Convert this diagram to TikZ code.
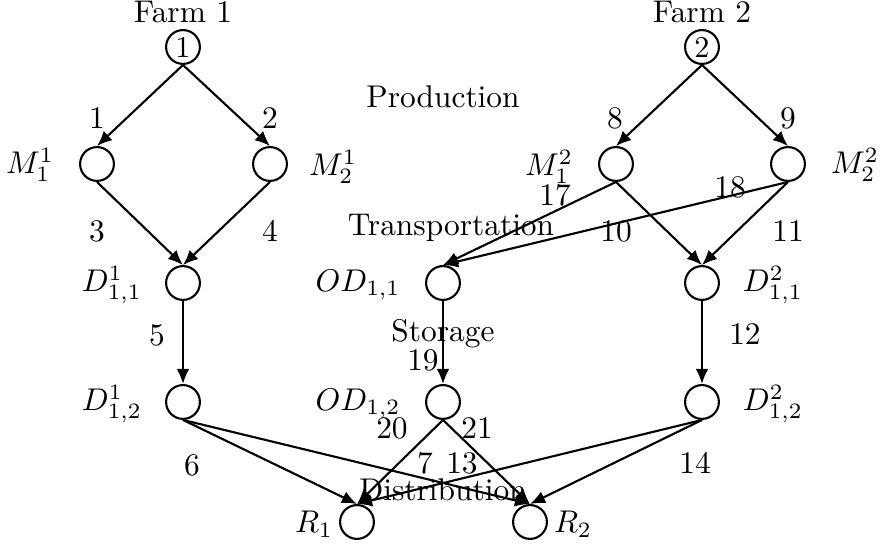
\documentclass[tikz,border=0pt]{standalone}
\usetikzlibrary{arrows.meta}
\begin{document}
\begin{tikzpicture}[x=0.33113pt,y=-0.33113pt,
  vert/.style={circle,draw,line width=0.7pt,minimum size=11.2pt,inner sep=0.5pt},
  flow/.style={line width=0.7pt,-{Latex[length=5pt,width=4.2pt]}},
  lbl/.style={inner sep=0pt,scale=1.04}]
\useasboundingbox (0,0) rectangle (880,546);
% vertices
\node[vert] (F1) at (183,47) {1};
\node[vert] (F2) at (702,47) {2};
\node[vert] (M11) at (97,164) {};
\node[vert] (M12) at (270,164) {};
\node[vert] (M21) at (616,164) {};
\node[vert] (M22) at (788,164) {};
\node[vert] (D111) at (183,283) {};
\node[vert] (OD11) at (443,283) {};
\node[vert] (D211) at (702,283) {};
\node[vert] (D112) at (183,402) {};
\node[vert] (OD12) at (443,402) {};
\node[vert] (D212) at (702,402) {};
\node[vert] (R1) at (357,522) {};
\node[vert] (R2) at (530,522) {};
% vertex names
\node[lbl] (tF1) at (183,12) {Farm 1};
\node[lbl] (tF2) at (702,12) {Farm 2};
\node[lbl] (tM11) at (30,165) {$M_1^1$};
\node[lbl] (tM12) at (333,167) {$M_2^1$};
\node[lbl] (tM21) at (549,167) {$M_1^2$};
\node[lbl] (tM22) at (855,165) {$M_2^2$};
\node[lbl] (tD111) at (112,285) {$D_{1,1}^1$};
\node[lbl] (tOD11) at (358,285) {$OD_{1,1}$};
\node[lbl] (tD211) at (773,285) {$D_{1,1}^2$};
\node[lbl] (tD112) at (112,404) {$D_{1,2}^1$};
\node[lbl] (tOD12) at (358,404) {$OD_{1,2}$};
\node[lbl] (tD212) at (773,404) {$D_{1,2}^2$};
\node[lbl] (tR1) at (314,524) {$R_1$};
\node[lbl] (tR2) at (573,524) {$R_2$};
% stage names
\node[lbl] (sP) at (443,97) {Production};
\node[lbl] (sT) at (451,228) {Transportation};
\node[lbl] (sS) at (443,334) {Storage};
\node[lbl] (sD) at (443,490) {Distribution};
% connectors
\draw[flow] (F1.south) -- (M11.north);
\draw[flow] (F1.south) -- (M12.north);
\draw[flow] (F2.south) -- (M21.north);
\draw[flow] (F2.south) -- (M22.north);
\draw[flow] (M11.south) -- (D111.north);
\draw[flow] (M12.south) -- (D111.north);
\draw[flow] (M21.south) -- (D211.north);
\draw[flow] (M22.south) -- (D211.north);
\draw[flow] (M21.south) -- (OD11.north);
\draw[flow] (M22.south) -- (OD11.north);
\draw[flow] (D111.south) -- (D112.north);
\draw[flow] (OD11.south) -- (OD12.north);
\draw[flow] (D211.south) -- (D212.north);
\draw[flow] (D112.south) -- (R1.north);
\draw[flow] (D112.south) -- (R2.north);
\draw[flow] (OD12.south) -- (R1.north);
\draw[flow] (OD12.south) -- (R2.north);
\draw[flow] (D212.south) -- (R1.north);
\draw[flow] (D212.south) -- (R2.north);
% edge numbers
\node[lbl] (e1) at (97,118) {1};
\node[lbl] (e2) at (270,118) {2};
\node[lbl] (e3) at (97,231) {3};
\node[lbl] (e4) at (270,231) {4};
\node[lbl] (e5) at (157,335) {5};
\node[lbl] (e6) at (192,465) {6};
\node[lbl] (e7) at (425,463) {7};
\node[lbl] (e8) at (615,118) {8};
\node[lbl] (e9) at (788,118) {9};
\node[lbl] (e10) at (616,231) {10};
\node[lbl] (e11) at (788,231) {11};
\node[lbl] (e12) at (745,334) {12};
\node[lbl] (e13) at (462,463) {13};
\node[lbl] (e14) at (695,463) {14};
\node[lbl] (e17) at (555,195) {17};
\node[lbl] (e18) at (730,187) {18};
\node[lbl] (e19) at (423,360) {19};
\node[lbl] (e20) at (392,428) {20};
\node[lbl] (e21) at (477,428) {21};
\end{tikzpicture}
\end{document}
